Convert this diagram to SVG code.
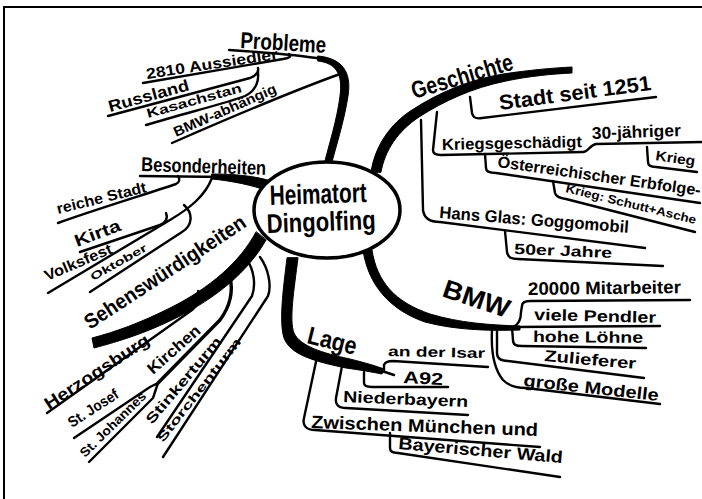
<svg xmlns="http://www.w3.org/2000/svg" width="702" height="499" viewBox="0 0 702 499">
<style>
text{font-family:"Liberation Sans Narrow","Liberation Sans",sans-serif;font-weight:bold;fill:#000}
.c path{fill:none;stroke:#000;stroke-width:2.4;stroke-linecap:round;stroke-linejoin:round}
.c path.t{fill:#000;stroke:#000;stroke-width:1}
.c path.m{stroke-width:3.4}
</style>
<rect width="702" height="499" fill="#fff"/>
<path d="M4,499 L4,7 L702,7" fill="none" stroke="#000" stroke-width="2"/>
<g class="c" id="connectors">
<!-- Probleme -->
<path d="M229,50 C260,52 300,55 322,59"/>
<path class="t" d="M318,56 C342,58 352,72 348,96 C344,122 336,146 331,166 L324,165 C329,144 337,120 340,96 C343,74 336,63 318,61 Z"/>
<path d="M143,83 L283,59 C290,58 292,56 289,54"/>
<path d="M108,116 L250,78 C257,75 259,72 258,68"/>
<path d="M146,125 C190,112 230,102 245,96 C255,91 259,82 258,72"/>
<path d="M172,143 C220,122 290,92 340,74"/>
<!-- Geschichte -->
<path class="t" d="M371,172 C375,146 390,124 412,110 C438,93 468,80 503,74 C530,70 552,68 572,67 L572,73 C552,74 530,76 506,81 C472,88 444,101 419,117 C398,131 385,150 381,172 Z"/>
<path d="M470,97 L472,113 C473,118 476,119 482,118 L656,97"/>
<path d="M437,112 L433,150 C433,154 436,155 441,155 L583,152 C588,152 590,145 596,144 L702,142"/>
<path d="M647,147 L648,162 C648,166 651,167 656,167 L697,172"/>
<path d="M485,154 L486,168 C486,172 490,173 496,173 L700,203"/>
<path d="M553,181 L555,193 C556,197 560,198 566,199 L695,232"/>
<path d="M421,120 L423,210 C424,218 429,222 440,222 L645,248"/>
<path d="M505,231 L507,252 C508,258 512,259 518,259 L663,266"/>
<!-- BMW -->
<path class="t" d="M372,250 C377,282 395,302 430,314 C460,323 490,325 520,326 L520,330 C488,331 455,330 425,322 C390,310 368,285 363,250 Z"/>
<path d="M513,327 C518,325 521,320 521,312 L522,306 C522,302 525,301 530,301 L690,300"/>
<path d="M515,327 L660,326"/>
<path d="M512,328 L513,340 C513,345 516,346 522,346 L646,348"/>
<path d="M497,330 L497,353 C497,359 501,361 508,361 L644,378"/>
<path d="M492,330 C491,350 493,368 503,380 C509,386 516,388 526,388 L660,404"/>
<!-- Lage -->
<path class="t" d="M298,258 C294,290 289,320 294,333 C300,346 322,353 350,359 C366,363 376,366 384,369 L382,374 C372,372 360,370 346,368 C312,361 290,354 284,338 C279,322 283,290 287,258 Z"/>
<path d="M382,371 L394,375"/>
<path d="M384,370 L384,365 C385,362 388,361 393,361 L488,367"/>
<path d="M364,372 L364,383 C364,386 367,387 372,387 L448,387"/>
<path d="M342,366 L336,398 C335,405 339,408 346,408 L468,415"/>
<path d="M317,357 L304,418 C302,426 307,430 315,430 L540,447"/>
<path d="M390,433 L390,448 C390,452 393,453 398,453 L560,477"/>
<!-- Besonderheiten -->
<path d="M140,176 L225,177"/>
<path class="t" d="M212,174 C235,174 255,176 271,181 L268,191 C252,185 232,181 212,179 Z"/>
<path d="M58,223 C100,208 150,193 176,184 C180,182 180,179 178,176"/>
<path d="M48,293 L170,220 C190,208 205,196 212,178"/>
<path d="M80,252 L160,225 C166,223 168,218 166,213"/>
<path d="M90,292 L182,232 C192,226 194,214 184,205"/>
<!-- Sehenswuerdigkeiten -->
<path class="t" d="M256,232 C240,262 210,288 170,308 C140,323 115,332 92,338 L94,348 C120,341 146,333 176,318 C216,298 248,272 266,240 Z"/>
<path d="M47,413 L192,310 C199,304 201,297 198,291"/>
<path class="m" d="M230,277 C233,290 231,305 220,320 L158,383"/>
<path d="M74,438 L150,387 L158,383 L153,398 L89,462"/>
<path d="M247,260 C254,270 256,285 252,296 L157,437"/>
<path d="M260,257 C268,268 272,285 268,296 L163,457"/>
</g>
<g id="center">
<ellipse cx="327" cy="210" rx="73" ry="48" fill="#fff" stroke="#000" stroke-width="3.5"/>
<text transform="translate(270,205) rotate(-1.8)" font-size="28" textLength="97" lengthAdjust="spacingAndGlyphs">Heimatort</text>
<text transform="translate(267,233) rotate(-2.1)" font-size="27" textLength="109" lengthAdjust="spacingAndGlyphs">Dingolfing</text>
</g>
<g id="probleme">
<text transform="translate(240,48) rotate(3.3)" font-size="23" textLength="86" lengthAdjust="spacingAndGlyphs">Probleme</text>
<text transform="translate(147,79) rotate(-8.7)" font-size="15" textLength="133" lengthAdjust="spacingAndGlyphs">2810 Aussiedler</text>
<text transform="translate(110,112) rotate(-15.4)" font-size="16" textLength="83" lengthAdjust="spacingAndGlyphs">Russland</text>
<text transform="translate(148,118) rotate(-15.5)" font-size="13" textLength="98" lengthAdjust="spacingAndGlyphs">Kasachstan</text>
<text transform="translate(176,137) rotate(-23.8)" font-size="14" textLength="111" lengthAdjust="spacingAndGlyphs">BMW-abhängig</text>
</g>
<g id="geschichte">
<text transform="translate(414,99) rotate(-16.5)" font-size="24" textLength="105" lengthAdjust="spacingAndGlyphs">Geschichte</text>
<text transform="translate(500,110) rotate(-7.5)" font-size="21" textLength="153" lengthAdjust="spacingAndGlyphs">Stadt seit 1251</text>
<text transform="translate(442,150) rotate(-1.2)" font-size="16" textLength="140" lengthAdjust="spacingAndGlyphs">Kriegsgeschädigt</text>
<text transform="translate(592,139) rotate(-1.9)" font-size="17" textLength="89" lengthAdjust="spacingAndGlyphs">30-jähriger</text>
<text transform="translate(655,160) rotate(8.5)" font-size="14" textLength="40" lengthAdjust="spacingAndGlyphs">Krieg</text>
<text transform="translate(497,167) rotate(8.1)" font-size="16" textLength="205" lengthAdjust="spacingAndGlyphs">Österreichischer Erbfolge-</text>
<text transform="translate(565,192) rotate(13.8)" font-size="12" textLength="134" lengthAdjust="spacingAndGlyphs">Krieg: Schutt+Asche</text>
<text transform="translate(439,218) rotate(4.5)" font-size="17" textLength="190" lengthAdjust="spacingAndGlyphs">Hans Glas: Goggomobil</text>
<text transform="translate(514,254) rotate(2.3)" font-size="15" textLength="98" lengthAdjust="spacingAndGlyphs">50er Jahre</text>
</g>
<g id="bmw">
<text transform="translate(441,296) rotate(18.7)" font-size="26" textLength="69" lengthAdjust="spacingAndGlyphs">BMW</text>
<text transform="translate(528,295) rotate(-0.7)" font-size="18" textLength="153" lengthAdjust="spacingAndGlyphs">20000 Mitarbeiter</text>
<text transform="translate(534,320) rotate(1.4)" font-size="16" textLength="122" lengthAdjust="spacingAndGlyphs">viele Pendler</text>
<text transform="translate(533,342) rotate(0.5)" font-size="16" textLength="110" lengthAdjust="spacingAndGlyphs">hohe Löhne</text>
<text transform="translate(544,361) rotate(5)" font-size="16" textLength="92" lengthAdjust="spacingAndGlyphs">Zulieferer</text>
<text transform="translate(523,386) rotate(6.3)" font-size="17" textLength="136" lengthAdjust="spacingAndGlyphs">große Modelle</text>
</g>
<g id="lage">
<text transform="translate(306,343) rotate(13.8)" font-size="25" textLength="50" lengthAdjust="spacingAndGlyphs">Lage</text>
<text transform="translate(388,356) rotate(1.2)" font-size="14" textLength="97" lengthAdjust="spacingAndGlyphs">an der Isar</text>
<text transform="translate(403,383) rotate(2.9)" font-size="17" textLength="40" lengthAdjust="spacingAndGlyphs">A92</text>
<text transform="translate(343,402) rotate(2.3)" font-size="16" textLength="125" lengthAdjust="spacingAndGlyphs">Niederbayern</text>
<text transform="translate(311,428) rotate(2)" font-size="18" textLength="227" lengthAdjust="spacingAndGlyphs">Zwischen München und</text>
<text transform="translate(398,449) rotate(4.9)" font-size="17" textLength="165" lengthAdjust="spacingAndGlyphs">Bayerischer Wald</text>
</g>
<g id="besonderheiten">
<text transform="translate(141,171) rotate(1.8)" font-size="20" textLength="125" lengthAdjust="spacingAndGlyphs">Besonderheiten</text>
<text transform="translate(58,214) rotate(-13.9)" font-size="15" textLength="92" lengthAdjust="spacingAndGlyphs">reiche Stadt</text>
<text transform="translate(77,247) rotate(-20.7)" font-size="17" textLength="48" lengthAdjust="spacingAndGlyphs">Kirta</text>
<text transform="translate(47,281) rotate(-23)" font-size="15" textLength="72" lengthAdjust="spacingAndGlyphs">Volksfest</text>
<text transform="translate(93,281) rotate(-29.4)" font-size="11" textLength="63" lengthAdjust="spacingAndGlyphs">Oktober</text>
</g>
<g id="sehenswuerdigkeiten">
<text transform="translate(90,330) rotate(-33.4)" font-size="21" textLength="189" lengthAdjust="spacingAndGlyphs">Sehenswürdigkeiten</text>
<text transform="translate(49,410) rotate(-33.3)" font-size="17" textLength="122" lengthAdjust="spacingAndGlyphs">Herzogsburg</text>
<text transform="translate(153,375) rotate(-41.3)" font-size="16" textLength="65" lengthAdjust="spacingAndGlyphs">Kirchen</text>
<text transform="translate(72,428) rotate(-32.9)" font-size="15" textLength="57" lengthAdjust="spacingAndGlyphs">St. Josef</text>
<text transform="translate(85,458) rotate(-44.5)" font-size="13" textLength="87" lengthAdjust="spacingAndGlyphs">St. Johannes</text>
<text transform="translate(152,425) rotate(-49.8)" font-size="14" textLength="109" lengthAdjust="spacingAndGlyphs">Stinkerturm</text>
<text transform="translate(163,443) rotate(-52)" font-size="12" textLength="128" lengthAdjust="spacingAndGlyphs">Storchenturm</text>
</g>
</svg>
